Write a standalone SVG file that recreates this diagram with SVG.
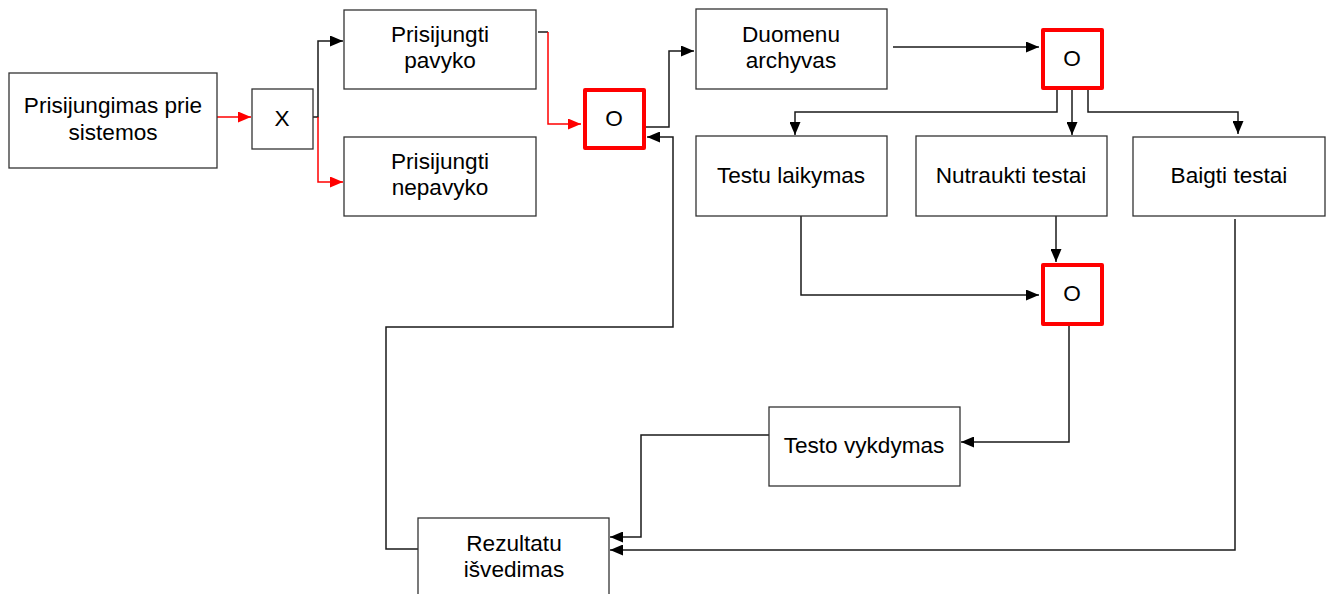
<svg xmlns="http://www.w3.org/2000/svg" width="1333" height="594" viewBox="0 0 1333 594">
  <style>
    .box { fill: #ffffff; stroke: #333333; stroke-width: 1.3; }
    .gate { fill: #ffffff; stroke: #ff0000; stroke-width: 4; stroke-linejoin: round; }
    .lbl { font-family: "Liberation Sans", Arial, sans-serif; font-size: 22.6px; fill: #000000; text-anchor: middle; }
    .wire { fill: none; stroke: #1a1a1a; stroke-width: 1.5; }
    .wire-red { fill: none; stroke: #ff0000; stroke-width: 1.5; }
  </style>
  <defs>
    <marker id="arrow" viewBox="0 0 13 11" refX="13" refY="5.5" markerUnits="userSpaceOnUse" markerWidth="13" markerHeight="11" orient="auto">
      <path d="M0,0 L13,5.5 L0,11 Z" fill="#000000"/>
    </marker>
    <marker id="arrow-red" viewBox="0 0 13 11" refX="13" refY="5.5" markerUnits="userSpaceOnUse" markerWidth="13" markerHeight="11" orient="auto">
      <path d="M0,0 L13,5.5 L0,11 Z" fill="#ff0000"/>
    </marker>
  </defs>

  <rect width="1333" height="594" fill="#ffffff"/>

  <!-- connectors -->
  <g id="connectors">
    <!-- login -> X -->
    <path class="wire-red" d="M217,117 H251" marker-end="url(#arrow-red)"/>
    <!-- X -> success / failure -->
    <path class="wire" d="M313,117 H318 V41 H343" marker-end="url(#arrow)"/>
    <path class="wire-red" d="M318,117 V182 H343" marker-end="url(#arrow-red)"/>
    <!-- success -> O -->
    <path class="wire" d="M538,32 H548"/>
    <path class="wire-red" d="M548,32 V124 H581" marker-end="url(#arrow-red)"/>
    <!-- O -> data archive -->
    <path class="wire" d="M646,127 H669 V51 H694" marker-end="url(#arrow)"/>
    <!-- data archive -> O -->
    <path class="wire" d="M893,47 H1039" marker-end="url(#arrow)"/>
    <!-- O -> three branches -->
    <path class="wire" d="M1057,90 V112 H795 V135" marker-end="url(#arrow)"/>
    <path class="wire" d="M1072,90 V135" marker-end="url(#arrow)"/>
    <path class="wire" d="M1088,90 V112 H1238 V134" marker-end="url(#arrow)"/>
    <!-- branches -> lower O -->
    <path class="wire" d="M801,216 V295 H1039" marker-end="url(#arrow)"/>
    <path class="wire" d="M1056,216 V262" marker-end="url(#arrow)"/>
    <!-- lower O -> test run -->
    <path class="wire" d="M1069,326 V442 H961" marker-end="url(#arrow)"/>
    <!-- test run -> results -->
    <path class="wire" d="M769,435 H641 V537 H610" marker-end="url(#arrow)"/>
    <!-- finished tests -> results -->
    <path class="wire" d="M1235,219 V550 H610" marker-end="url(#arrow)"/>
    <!-- results -> back to O -->
    <path class="wire" d="M418,549 H386 V327 H673 V137 H647" marker-end="url(#arrow)"/>
  </g>

  <g id="login">
    <rect class="box" x="9" y="73" width="208" height="95"/>
    <text class="lbl" x="113" y="113">Prisijungimas prie</text>
    <text class="lbl" x="113" y="140">sistemos</text>
  </g>

  <g id="xor">
    <rect class="box" x="252" y="89" width="61" height="60"/>
    <text class="lbl" x="282" y="126">X</text>
  </g>

  <g id="login-ok">
    <rect class="box" x="344" y="10" width="192" height="79"/>
    <text class="lbl" x="440" y="42">Prisijungti</text>
    <text class="lbl" x="440" y="68">pavyko</text>
  </g>

  <g id="login-fail">
    <rect class="box" x="344" y="137" width="192" height="79"/>
    <text class="lbl" x="440" y="169">Prisijungti</text>
    <text class="lbl" x="440" y="195">nepavyko</text>
  </g>

  <g id="or-1">
    <rect class="gate" x="585" y="90" width="59" height="58"/>
    <text class="lbl" x="614" y="126">O</text>
  </g>

  <g id="archive">
    <rect class="box" x="696" y="9" width="191" height="80"/>
    <text class="lbl" x="791" y="42">Duomenu</text>
    <text class="lbl" x="791" y="68">archyvas</text>
  </g>

  <g id="or-2">
    <rect class="gate" x="1043" y="30" width="59" height="58"/>
    <text class="lbl" x="1072" y="66">O</text>
  </g>

  <g id="tests-taking">
    <rect class="box" x="696" y="136" width="191" height="80"/>
    <text class="lbl" x="791" y="183">Testu laikymas</text>
  </g>

  <g id="tests-aborted">
    <rect class="box" x="916" y="136" width="191" height="80"/>
    <text class="lbl" x="1011" y="183">Nutraukti testai</text>
  </g>

  <g id="tests-finished">
    <rect class="box" x="1133" y="137" width="192" height="79"/>
    <text class="lbl" x="1229" y="183">Baigti testai</text>
  </g>

  <g id="or-3">
    <rect class="gate" x="1043" y="265" width="59" height="59"/>
    <text class="lbl" x="1072" y="301">O</text>
  </g>

  <g id="test-run">
    <rect class="box" x="769" y="407" width="191" height="79"/>
    <text class="lbl" x="864" y="453">Testo vykdymas</text>
  </g>

  <g id="results">
    <rect class="box" x="418" y="518" width="191" height="80"/>
    <text class="lbl" x="514" y="551">Rezultatu</text>
    <text class="lbl" x="514" y="577">išvedimas</text>
  </g>
</svg>
